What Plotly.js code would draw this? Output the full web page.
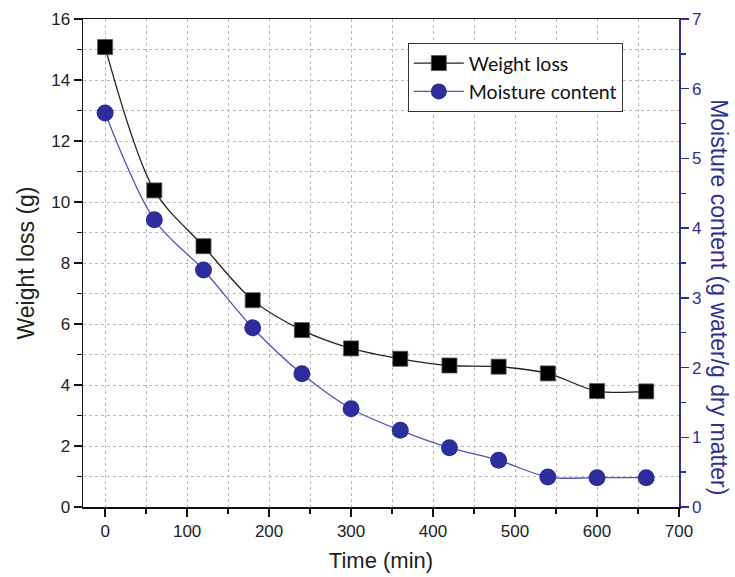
<!DOCTYPE html>
<html>
<head>
<meta charset="utf-8">
<script src="https://cdn.plot.ly/plotly-3.0.1.min.js"></script>
<style>html,body{margin:0;padding:0;background:#fff;}#chart{width:735px;height:577px;}</style>
</head>
<body>
<div id="chart"></div>
<script>
const time = [0, 60, 120, 180, 240, 300, 360, 420, 480, 540, 600, 660];
const weightLoss = [15.08, 10.38, 8.55, 6.78, 5.8, 5.2, 4.86, 4.64, 4.6, 4.38, 3.8, 3.79];
const moisture = [5.65, 4.12, 3.40, 2.57, 1.91, 1.41, 1.10, 0.85, 0.67, 0.43, 0.42, 0.42];

const blue = '#2e3192';
const font = "'Liberation Sans', Arial, sans-serif";

const traces = [
  {
    x: time, y: weightLoss, name: 'Weight loss', type: 'scatter', mode: 'lines+markers',
    line: {color: '#222', width: 1.3, shape: 'spline', smoothing: 0.9},
    marker: {symbol: 'square', size: 15, color: '#000', line: {color: '#555', width: 0.8}},
    xaxis: 'x', yaxis: 'y'
  },
  {
    x: time, y: moisture, name: 'Moisture content', type: 'scatter', mode: 'lines+markers',
    line: {color: '#5555b5', width: 1.3, shape: 'spline', smoothing: 0.9},
    marker: {symbol: 'circle', size: 17, color: '#2b2e9b'},
    xaxis: 'x', yaxis: 'y2'
  }
];

const layout = {
  width: 735, height: 577,
  margin: {l: 83, r: 56, t: 19, b: 70},
  paper_bgcolor: '#fff', plot_bgcolor: '#fff',
  font: {family: font, color: '#222', size: 17},
  showlegend: true,
  legend: {
    x: 0.545, y: 0.951, xanchor: 'left', yanchor: 'top',
    bgcolor: '#fff', bordercolor: '#333', borderwidth: 1,
    font: {family: "Lato, 'Open Sans', sans-serif", size: 19.5, color: '#111'},
    itemwidth: 50
  },
  xaxis: {
    range: [-27, 700], tickvals: [0,100,200,300,400,500,600,700],
    ticks: 'outside', ticklen: 8, tickwidth: 1.5, tickcolor: '#111',
    showline: true, linecolor: '#111', linewidth: 1.5, mirror: true,
    showgrid: true, gridcolor: '#bbb', griddash: 'dot', gridwidth: 1,
    zeroline: false,
    minor: {dtick: 50, tick0: 0, ticks: 'outside', ticklen: 5, tickcolor: '#111', showgrid: true, gridcolor: '#bbb', griddash: 'dot'},
    tickfont: {family: font, size: 17, color: '#222'},
    title: {text: 'Time (min)', font: {family: font, size: 22, color: '#222'}, standoff: 12}
  },
  yaxis: {
    range: [0, 16], dtick: 2, tick0: 0,
    ticks: 'outside', ticklen: 8, tickwidth: 1.5, tickcolor: '#111',
    showline: true, linecolor: '#111', linewidth: 1.5,
    showgrid: true, gridcolor: '#bbb', griddash: 'dot', gridwidth: 1,
    zeroline: false,
    minor: {dtick: 1, ticks: 'outside', ticklen: 5, tickcolor: '#111', showgrid: true, gridcolor: '#bbb', griddash: 'dot'},
    tickfont: {family: font, size: 17, color: '#222'},
    title: {text: 'Weight loss (g)', font: {family: font, size: 23, color: '#222'}, standoff: 10}
  },
  yaxis2: {
    range: [0, 7], dtick: 1, overlaying: 'y', side: 'right',
    ticks: 'outside', ticklen: 8, tickwidth: 1.5, tickcolor: blue,
    showline: true, linecolor: blue, linewidth: 1.5,
    showgrid: false, zeroline: false,
    minor: {dtick: 0.5, ticks: 'outside', ticklen: 5, tickcolor: blue},
    tickfont: {family: font, size: 17, color: blue}
  },
  annotations: [{
    text: 'Moisture content (g water/g dry matter)',
    xref: 'paper', yref: 'paper', x: 1.0, xshift: 40, y: 0.43,
    xanchor: 'center', yanchor: 'middle', showarrow: false, textangle: 90,
    font: {family: font, size: 23, color: blue}
  }]
};

Plotly.newPlot('chart', traces, layout, {displayModeBar: false, staticPlot: true});
</script>
</body>
</html>
